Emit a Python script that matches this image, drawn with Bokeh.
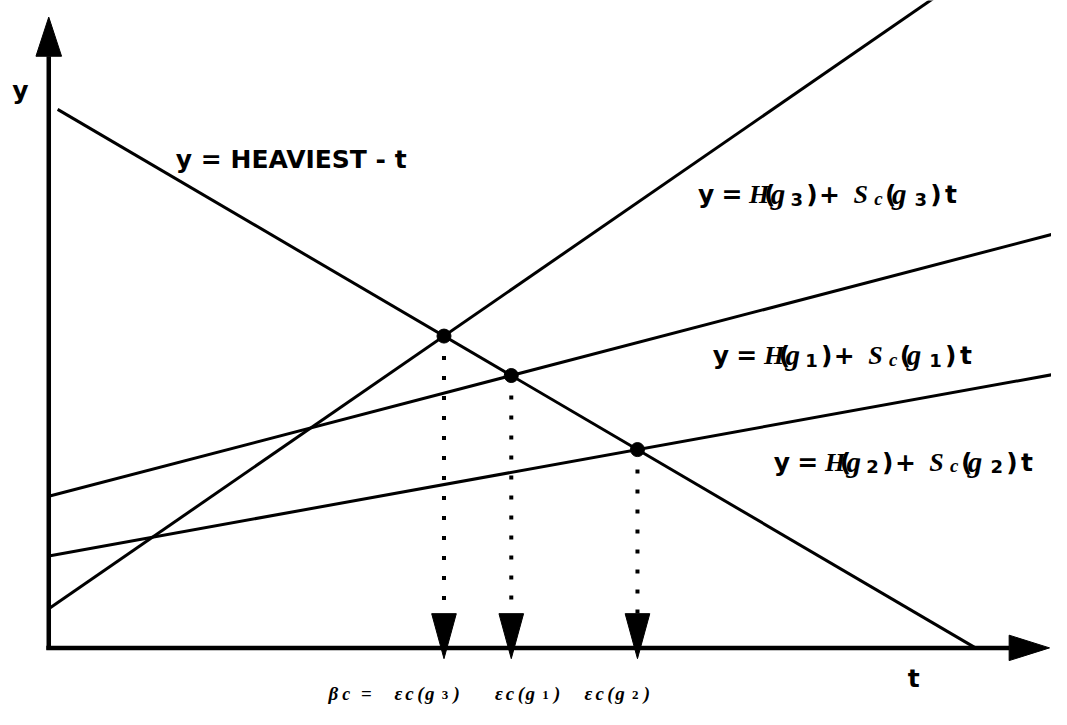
import numpy as np
from bokeh.plotting import figure
from bokeh.models import Range1d
from bokeh.embed import file_html
from bokeh.resources import INLINE
from bokeh.core.properties import value

# ---------------- data ----------------
groups = ["1", "2", "3"]                 # g1, g2, g3
H_values = [1.55, 0.94, 0.40]            # H(g_i): intercepts
Sc_values = [0.263, 0.182, 0.695]        # S_c(g_i): slopes
HEAVIEST = 5.56                          # intercept of y = HEAVIEST - t
heaviest_slope = -0.591
heaviest_t_start = 0.09
t_end = 10.3
bottom_labels_order = ["3", "1", "2"]    # beta_c = eps_c(g3), eps_c(g1), eps_c(g2)

# ---------------- helpers (reference px -> data) ----------------
def sx(px):
    return (px - 49) / 100.0

def sy(py):
    return (662 - py) / 100.0

SANS = value("DejaVu Sans")
SERIF = value("Liberation Serif")

p = figure(width=1051, height=709, x_range=Range1d(sx(0), sx(1067)), y_range=Range1d(sy(725), sy(0)),
           output_backend="svg", toolbar_location=None, min_border=0,
           x_axis_location=None, y_axis_location=None, background_fill_color="white",
           border_fill_color="white")
p.grid.visible = False
p.outline_line_color = None

# ---------------- axes with arrows ----------------
p.line([0, 0], [-0.02, sy(57)], line_width=4.5, color="black")
p.line([-0.025, sx(1024)], [0, 0], line_width=4.5, color="black")
p.patch([-0.13, 0.13, 0.0], [sy(57), sy(57), sy(17)], color="black")
p.patch([sx(1024), sx(1024), sx(1065)], [0.13, -0.13, 0.0], color="black")

# ---------------- lines ----------------
tt = np.array([heaviest_t_start, -HEAVIEST / heaviest_slope])
p.line(tt, HEAVIEST + heaviest_slope * tt, line_width=3, color="black")
for h, s in zip(H_values, Sc_values):
    tg = np.array([0.0, t_end])
    p.line(tg, h + s * tg, line_width=3, color="black")

# ---------------- intersections ----------------
ti = [(HEAVIEST - h) / (s - heaviest_slope) for h, s in zip(H_values, Sc_values)]
yi = [HEAVIEST + heaviest_slope * t for t in ti]
arrow_top = sy(627)
arrow_tip = sy(673)
for t, y in zip(ti, yi):
    p.line([t, t], [y, arrow_top], line_width=4, line_dash="4 16", color="black")
    p.patch([t - 0.125, t + 0.125, t], [arrow_top, arrow_top, arrow_tip], color="black")
p.scatter(ti, yi, size=14, color="black")

# ---------------- texts ----------------
def txt(x, y, s, font, size, style, color="black"):
    p.text([x], [y], text=[s], text_font=font, text_font_size=value(size),
           text_font_style=style, text_baseline="alphabetic", text_align="left",
           text_color=color)

txt(sx(12), sy(92), "y", SANS, "25px", "bold")
txt(sx(921), sy(693), "t", SANS, "25px", "bold")
txt(sx(178), sy(163), "y = HEAVIEST - t", SANS, "25px", "bold")

formula_layout = [("y", 0, "b"), ("=", 24, "b"), ("H", 52, "i"), ("(", 67, "b"), ("g", 74, "g"),
                  ("#", 94, "s"), (")", 110, "b"), ("+", 123, "b"), ("S", 158, "i"), ("c", 179, "c"),
                  ("(", 190, "b"), ("g", 197, "g"), ("#", 220, "s"), (")", 236, "b"), ("t", 251, "b")]
label_anchor = {"3": (708, 198), "1": (723, 363), "2": (785, 472)}

for g in groups:
    x0, b0 = label_anchor[g]
    for ch, dx, kind in formula_layout:
        s = g if ch == "#" else ch
        if kind == "b":
            txt(sx(x0 + dx), sy(b0), s, SANS, "25px", "bold")
        elif kind == "i":
            txt(sx(x0 + dx), sy(b0), s, SERIF, "26px", "bold italic")
        elif kind == "g":
            txt(sx(x0 + dx), sy(b0), s, SERIF, "29px", "bold italic")
        elif kind == "s":
            txt(sx(x0 + dx), sy(b0 + 5), s, SANS, "18px", "bold")
        else:
            txt(sx(x0 + dx), sy(b0 + 4), s, SERIF, "19px", "bold italic")

# bottom labels
bb = 709
eps_layout = [("ε", 0, "m"), ("c", 11, "m"), ("(", 23, "m"), ("g", 31, "m"), ("#", 48, "d"), (")", 60, "m")]
bottom_anchor = {"3": 400, "1": 502, "2": 593}
txt(sx(333), sy(bb), "β", SERIF, "19px", "bold italic")
txt(sx(347), sy(bb), "c", SERIF, "18px", "bold italic")
txt(sx(366), sy(bb), "=", SERIF, "19px", "bold")
for g in bottom_labels_order:
    x0 = bottom_anchor[g]
    for ch, dx, kind in eps_layout:
        s = g if ch == "#" else ch
        if kind == "m":
            txt(sx(x0 + dx), sy(bb), s, SERIF, "19px", "bold italic")
        else:
            txt(sx(x0 + dx), sy(bb + 1), s, SERIF, "13px", "bold")

open("out.html", "w").write(file_html(p, INLINE))
